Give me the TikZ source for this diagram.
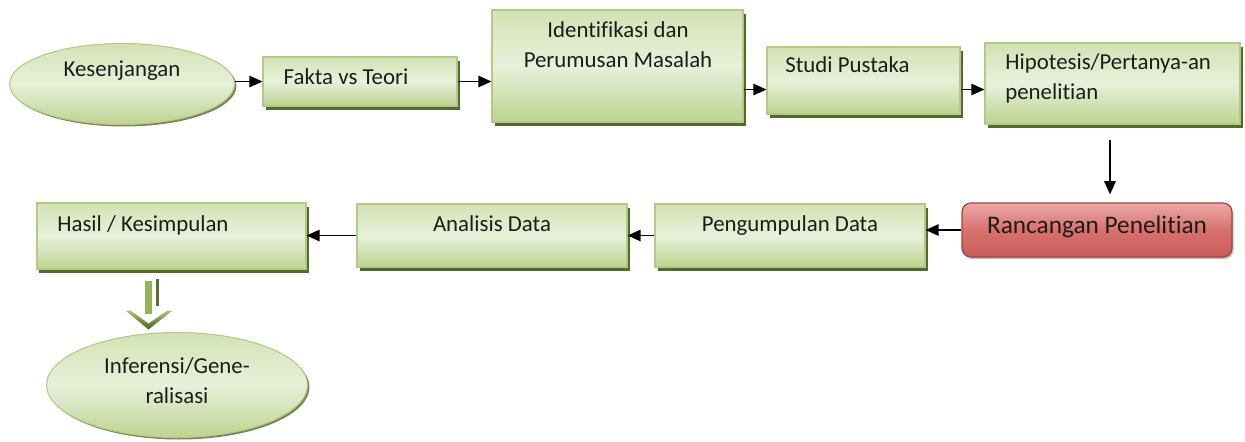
\documentclass[tikz,border=0pt]{standalone}
\usepackage{fontspec}
\setmainfont[Ligatures=NoCommon]{Carlito}
\usetikzlibrary{arrows.meta,shapes.geometric,shadows,fit,calc}
\definecolor{gA}{HTML}{D3E2B4}
\definecolor{gB}{HTML}{E8F0DA}
\definecolor{gC}{HTML}{BDD391}
\definecolor{gEdge}{HTML}{B3CA86}
\definecolor{gShadow}{HTML}{55692C}
\definecolor{rA}{HTML}{EBA9A7}
\definecolor{rB}{HTML}{D8716E}
\definecolor{rC}{HTML}{C85D5A}
\definecolor{rEdge}{HTML}{A8403E}
\definecolor{txtc}{HTML}{1C1C1C}
\definecolor{barG}{HTML}{93B55A}
\definecolor{lineG}{HTML}{5B6F35}
\definecolor{chevTop}{HTML}{A9C66E}
\definecolor{chevBot}{HTML}{4C5F25}
\tikzset{
  greenbox/.style={rectangle, draw=gEdge, line width=0.6pt, top color=gA, bottom color=gC, middle color=gB,
    inner sep=0pt, drop shadow={shadow xshift=0.05cm, shadow yshift=-0.08cm, fill=gShadow, opacity=1}},
  greenell/.style={ellipse, draw=gEdge, line width=0.6pt, top color=gA, bottom color=gC, middle color=gB,
    inner sep=0pt, drop shadow={shadow xshift=0.04cm, shadow yshift=-0.04cm, fill=gShadow!80, opacity=1}},
  redbox/.style={rectangle, rounded corners=0.18cm, draw=rEdge, line width=0.7pt, top color=rA, bottom color=rC, middle color=rB,
    inner sep=0pt, drop shadow={shadow xshift=0.03cm, shadow yshift=-0.04cm, fill=black!25, opacity=1}},
  lbl/.style={font=\fontsize{13}{17}\selectfont, text=txtc, inner sep=0pt},
  arr/.style={-{Triangle[length=7.5pt,width=6.5pt]}, line width=1pt, black}
}
\begin{document}
\begin{tikzpicture}[x=0.02cm, y=-0.02cm]
\fill[white] (0,0) rectangle (1245,441);
\useasboundingbox (0,0) rectangle (1245,441);

% shapes
\node[greenell, minimum width=4.5cm, minimum height=1.62cm] (kes) at (122,84) {};
\node[greenbox, fit={(263,57) (457,106)}] (fakta) {};
\node[greenbox, fit={(492,10) (743,122)}] (ident) {};
\node[greenbox, fit={(767,47) (960,114)}] (studi) {};
\node[greenbox, fit={(985,43) (1240,124)}] (hipo) {};
\node[redbox, fit={(962,203) (1232,257)}] (ranc) {};
\node[greenbox, fit={(655,204) (925,267)}] (peng) {};
\node[greenbox, fit={(357,204) (627,267)}] (anal) {};
\node[greenbox, fit={(37,203) (306,269)}] (hasil) {};
\node[greenell, minimum width=5.22cm, minimum height=2.1cm] (infer) at (177,385) {};

% texts
\node[lbl, anchor=mid] (tkes) at (122,72) {Kesenjangan};
\node[lbl, anchor=mid] (tfakta) at (346,80) {Fakta vs Teori};
\node[lbl, align=center] (tident) at (618,45) {Identifikasi dan\\Perumusan Masalah};
\node[lbl, anchor=mid west] (tstudi) at (785,68) {Studi Pustaka};
\node[lbl, align=left, anchor=west] (thipo) at (1005,78) {Hipotesis/Pertanya-an\\penelitian};
\node[lbl, anchor=mid, font=\fontsize{14.4}{17}\selectfont] (tranc) at (1097,229) {Rancangan Penelitian};
\node[lbl, anchor=mid] (tpeng) at (790,227) {Pengumpulan Data};
\node[lbl, anchor=mid] (tanal) at (492,227) {Analisis Data};
\node[lbl, anchor=mid west] (thasil) at (57,227) {Hasil / Kesimpulan};
\node[lbl, align=center] (tinfer) at (177,381) {Inferensi/Gene-\\ralisasi};

% connectors
\coordinate (s1) at ($(studi.west)+(0,9)$);
\coordinate (s2) at ($(hipo.west)+(0,6)$);
\coordinate (vx) at (1110,0);
\draw[arr] (kes.east |- fakta.west) -- (fakta.west);
\draw[arr] (fakta.east) -- (fakta.east -| ident.west);
\draw[arr] (ident.east |- s1) -- (s1);
\draw[arr] (studi.east |- s2) -- (s2);
\draw[arr, shorten <=0.3cm, shorten >=0.16cm] (hipo.south -| vx) -- (ranc.north -| vx);
\draw[arr] (ranc.west) -- (ranc.west -| peng.east);
\draw[arr] (peng.west) -- (peng.west -| anal.east);
\draw[arr] (anal.west) -- (anal.west -| hasil.east);

% decorative double arrow from hasil to infer
\begin{scope}[shift={(hasil.south)}]
  \fill[barG] (-27,11) rectangle (-20,44);
  \draw[lineG, line width=1.2pt] (-14,9) -- (-14,36);
  \shade[top color=chevTop, bottom color=chevBot]
    (-46,41) -- (-23,60) -- (1,41) -- (-4,41) -- (-23,54) -- (-41,41) -- cycle;
\end{scope}
\end{tikzpicture}
\end{document}
